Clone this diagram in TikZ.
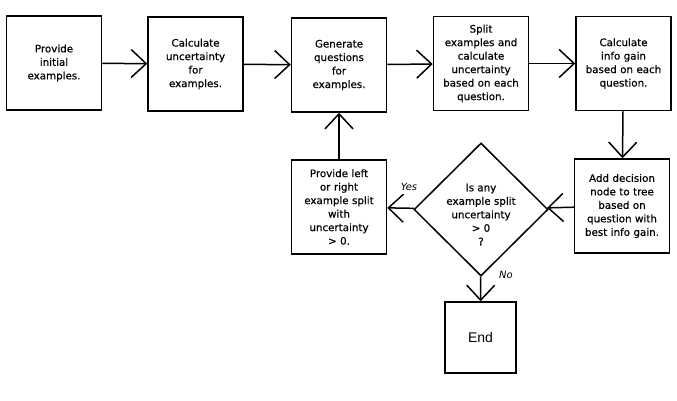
\documentclass[tikz,border=0pt]{standalone}
\usepackage{fontspec}
\setmainfont[FakeBold=0.6,BoldFont=DejaVu Sans,BoldFeatures={FakeBold=0.6}]{DejaVu Sans}
\newfontfamily\endfont{Liberation Sans}
\newfontfamily\labfont{DejaVu Sans}
\usetikzlibrary{shapes.geometric,arrows.meta}
\begin{document}
\begin{tikzpicture}[x=1pt,y=-1pt,
  box/.style={draw,line width=1.5pt,minimum width=95pt,minimum height=94pt,inner sep=0pt,
    align=center,text width=93pt,font=\fontsize{10.3}{13.5}\selectfont},
  dia/.style={draw,diamond,line width=1.5pt,minimum width=134pt,minimum height=133pt,inner sep=0pt},
  conn/.style={line width=1.5pt,-{Straight Barb[length=15pt,width=28pt,line width=1.5pt]}},
  lab/.style={font=\labfont\fontsize{10}{12}\selectfont\itshape}]
\useasboundingbox (0,0) rectangle (677,400);
\node[box] (b1) at (54,63) {Provide\\initial\\examples.};
\node[box] (b2) at (195.5,64) {Calculate\\uncertainty\\for\\examples.};
\node[box] (b3) at (339,65) {Generate\\questions\\for\\examples.};
\node[box] (b4) at (481,63.5) {Split\\examples and\\calculate\\uncertainty\\based on each\\question.};
\node[box] (b5) at (623.5,63.5) {Calculate\\info gain\\based on each\\question.};
\node[box] (b6) at (622,206) {Add decision\\node to tree\\based on\\question with\\best info gain.};
\node[box] (b7) at (339,207) {Provide left\\or right\\example split\\with\\uncertainty\\> 0.};
\node[dia,label={[align=center,font=\fontsize{10.3}{13.5}\selectfont,yshift=-5pt]center:Is any\\example split\\uncertainty\\> 0\\?}] (d) at (481,209.5) {};
\node[box,minimum width=71pt,minimum height=71pt,text width=68pt,font=\endfont\fontsize{14}{16}\selectfont] (e) at (480.5,337.5) {End};
\draw[conn] (b1) -- (b2);
\draw[conn] (b2) -- (b3);
\draw[conn] (b3) -- (b4);
\draw[conn] (b4) -- (b5);
\draw[conn] (b5) -- (b6);
\draw[conn] (b6) -- (d);
\draw[conn] (d) -- (b7);
\draw[conn] (b7) -- (b3);
\draw[conn] (d) -- (e);
\node[lab] (yes) at (409,187) {Yes};
\node[lab] (no) at (506,275) {No};
\end{tikzpicture}
\end{document}
